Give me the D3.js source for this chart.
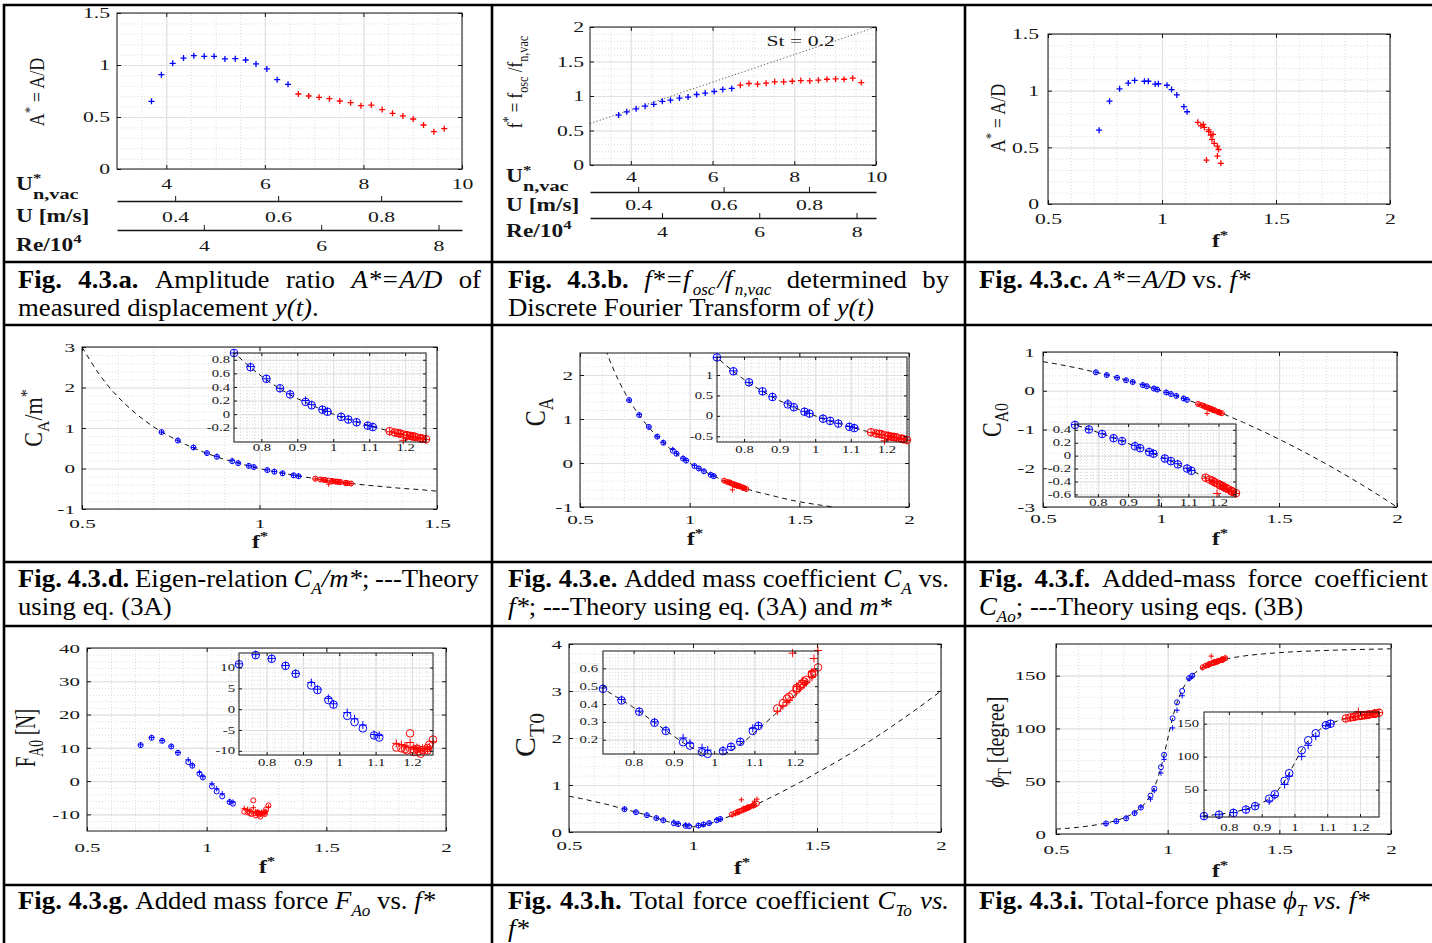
<!DOCTYPE html>
<html>
<head>
<meta charset="utf-8">
<title>Fig. 4.3</title>
<script src="https://cdn.jsdelivr.net/npm/d3@7/dist/d3.min.js"></script>
<style>
  html, body { margin: 0; padding: 0; background: #fff; }
  svg { display: block; font-family: "Liberation Serif", "Times New Roman", serif; }
  svg text { white-space: pre; }
  .grid-minor line { stroke: #d4d4d4; stroke-width: 0.8; stroke-dasharray: 1 2; }
  .grid-major line { stroke: #e0e0e0; stroke-width: 1.2; }
</style>
</head>
<body>
<script>
// ---------------------------------------------------------------------------
// Measured runs: the first `lowerCount` runs form the lower branch (blue),
// the remaining runs the upper branch (red).
// ---------------------------------------------------------------------------
const lowerCount = 14;

// reduced velocity U*_{n,vac}
const uStar = [3.70, 3.90, 4.13, 4.35, 4.56, 4.77, 4.97, 5.19, 5.40, 5.61, 5.82, 6.04, 6.25, 6.47,
               6.68, 6.89, 7.10, 7.31, 7.52, 7.74, 7.95, 8.16, 8.38, 8.59, 8.80, 9.01, 9.22, 9.43, 9.64];
// amplitude ratio A* = A/D
const ampRatio = [0.651, 0.907, 1.016, 1.067, 1.090, 1.083, 1.083, 1.058, 1.061, 1.048, 1.010, 0.962, 0.859, 0.814,
                  0.721, 0.702, 0.689, 0.676, 0.654, 0.638, 0.609, 0.615, 0.571, 0.535, 0.510, 0.481, 0.423, 0.359, 0.388];
// frequency ratio f* = f_osc / f_n,vac
const freqRatio = [0.724, 0.770, 0.814, 0.852, 0.880, 0.923, 0.940, 0.970, 0.984, 1.022, 1.042, 1.065, 1.096, 1.110,
                   1.157, 1.181, 1.171, 1.186, 1.205, 1.205, 1.214, 1.224, 1.219, 1.229, 1.243, 1.248, 1.243, 1.258, 1.195];

// two evaluation methods per run: circles (o) and crosses (+)
const caOverMass    = [0.90, 0.69, 0.52, 0.38, 0.29, 0.18, 0.13, 0.065, 0.035, -0.04, -0.08, -0.12, -0.17, -0.19,
                       -0.25, -0.28, -0.27, -0.285, -0.31, -0.315, -0.32, -0.33, -0.325, -0.335, -0.355, -0.36, -0.355, -0.37, -0.30];
const caOverMassAlt = [0.90, 0.70, 0.52, 0.38, 0.30, 0.20, 0.14, 0.07, 0.04, -0.035, -0.075, -0.115, -0.165, -0.185,
                       -0.26, -0.285, -0.275, -0.29, -0.305, -0.32, -0.325, -0.335, -0.33, -0.34, -0.35, -0.365, -0.36, -0.375, -0.385];

const addedMassCoef    = [1.43, 1.09, 0.82, 0.60, 0.46, 0.28, 0.21, 0.10, 0.055, -0.07, -0.125, -0.19, -0.27, -0.30,
                          -0.40, -0.44, -0.43, -0.45, -0.49, -0.50, -0.51, -0.52, -0.515, -0.53, -0.56, -0.57, -0.56, -0.59, -0.475];
const addedMassCoefAlt = [1.43, 1.10, 0.82, 0.60, 0.47, 0.31, 0.22, 0.11, 0.06, -0.06, -0.12, -0.18, -0.26, -0.29,
                          -0.41, -0.45, -0.44, -0.46, -0.48, -0.51, -0.52, -0.53, -0.52, -0.54, -0.555, -0.575, -0.57, -0.60, -0.61];

const addedMassForceCoef    = [0.475, 0.405, 0.335, 0.27, 0.225, 0.145, 0.115, 0.055, 0.03, -0.045, -0.085, -0.135, -0.20, -0.235,
                               -0.34, -0.39, -0.37, -0.41, -0.45, -0.46, -0.47, -0.50, -0.49, -0.51, -0.545, -0.56, -0.55, -0.58, -0.43];
const addedMassForceCoefAlt = [0.48, 0.41, 0.34, 0.275, 0.23, 0.16, 0.12, 0.065, 0.035, -0.04, -0.08, -0.125, -0.195, -0.23,
                               -0.35, -0.40, -0.38, -0.42, -0.44, -0.47, -0.48, -0.51, -0.50, -0.52, -0.54, -0.565, -0.56, -0.585, -0.585];

const addedMassForce    = [10.8, 13.0, 12.1, 10.4, 8.5, 5.7, 4.6, 2.2, 1.1, -1.6, -3.1, -4.6, -6.3, -6.8,
                           -9.2, -9.6, -9.4, -9.9, -9.7, -10.3, -9.5, -10.7, -10.1, -9.8, -9.3, -8.5, -9.9, -7.3, -5.8];
const addedMassForceAlt = [10.9, 13.1, 12.2, 10.5, 8.6, 6.4, 4.8, 2.6, 1.3, -0.8, -2.3, -3.8, -6.1, -6.3,
                           -8.2, -8.8, -8.5, -9.1, -9.2, -9.6, -9.2, -10.0, -9.5, -9.4, -9.5, -9.1, -9.7, -7.8, -8.0];

const totalForceCoef    = [0.485, 0.42, 0.357, 0.295, 0.249, 0.186, 0.167, 0.13, 0.121, 0.136, 0.16, 0.188, 0.249, 0.277,
                           0.375, 0.43, 0.405, 0.44, 0.48, 0.49, 0.50, 0.525, 0.515, 0.535, 0.565, 0.575, 0.57, 0.605, 0.455];
const totalForceCoefAlt = [0.49, 0.425, 0.36, 0.30, 0.255, 0.21, 0.18, 0.155, 0.142, 0.142, 0.162, 0.19, 0.264, 0.28,
                           0.36, 0.41, 0.39, 0.42, 0.47, 0.50, 0.49, 0.51, 0.53, 0.52, 0.55, 0.655, 0.58, 0.70, 0.685];

const totalPhase    = [10.0, 12.1, 14.8, 19.8, 25.0, 36.3, 43.0, 63.3, 75.0, 109.6, 124.8, 135.5, 147.7, 150.0,
                       158.0, 160.0, 159.5, 161.0, 162.0, 162.5, 163.0, 163.5, 163.0, 164.0, 165.0, 165.5, 165.0, 166.5, 161.5];
const totalPhaseAlt = [9.8, 12.0, 15.2, 20.0, 25.5, 33.0, 41.0, 57.8, 70.7, 100.5, 117.2, 131.0, 147.0, 149.5,
                       157.5, 160.5, 159.0, 160.5, 162.5, 163.0, 162.5, 164.0, 163.5, 164.5, 165.5, 165.0, 166.0, 167.0, 168.5];

// theory curves (dashed), sampled along f*
const theoryF = [0.5, 0.55, 0.6, 0.65, 0.7, 0.75, 0.8, 0.85, 0.9, 0.925, 0.95, 0.975, 1.0, 1.025, 1.05, 1.075, 1.1,
                 1.15, 1.2, 1.25, 1.3, 1.35, 1.4, 1.45, 1.5, 1.6, 1.7, 1.8, 1.9, 2.0];
const theoryCaOverMass = [3.00, 2.31, 1.78, 1.37, 1.04, 0.78, 0.56, 0.38, 0.23, 0.17, 0.11, 0.05, 0.00, -0.05, -0.09, -0.13, -0.17,
                          -0.24, -0.31, -0.36, -0.41, -0.45, -0.49, -0.52, -0.56, -0.61, -0.65, -0.69, -0.72, -0.75];
const theoryCa = [4.74, 3.65, 2.81, 2.16, 1.64, 1.23, 0.89, 0.61, 0.37, 0.27, 0.17, 0.08, 0.00, -0.08, -0.15, -0.21, -0.27,
                  -0.39, -0.48, -0.57, -0.65, -0.71, -0.77, -0.83, -0.88, -0.96, -1.03, -1.09, -1.14, -1.19];
const theoryCa0 = [0.75, 0.70, 0.64, 0.58, 0.51, 0.44, 0.36, 0.28, 0.19, 0.14, 0.10, 0.05, 0.00, -0.05, -0.10, -0.16, -0.21,
                   -0.32, -0.44, -0.56, -0.69, -0.82, -0.96, -1.10, -1.25, -1.56, -1.89, -2.24, -2.61, -3.00];
const theoryCt0 = [0.76, 0.71, 0.65, 0.59, 0.52, 0.45, 0.38, 0.30, 0.22, 0.18, 0.15, 0.12, 0.11, 0.12, 0.15, 0.19, 0.24,
                   0.34, 0.45, 0.57, 0.70, 0.83, 0.97, 1.11, 1.26, 1.56, 1.89, 2.24, 2.61, 3.00];
const theoryPhase = [4.6, 5.4, 6.4, 7.7, 9.4, 11.6, 14.9, 20.2, 29.6, 37.6, 49.5, 67.1, 90.0, 112.4, 129.1, 140.3, 147.8,
                     156.8, 161.9, 165.1, 167.3, 168.9, 170.1, 171.0, 171.8, 173.0, 173.8, 174.5, 175.0, 175.4];

// St = 0.2 reference line in the f*-U* plane
const strouhalU = [3, 10];
const strouhalF = [0.6, 2.0];

// secondary velocity scales: U [m/s] and Re/10^4 per unit of U*
const speedPerUStar = 0.0957;
const reynoldsPerUStar = 0.840;

// tick labels
const uStarTicks = [4, 6, 8, 10];
const speedTicks = [0.4, 0.6, 0.8];
const reynoldsTicks = [4, 6, 8];
const freqTicks = [0.5, 1, 1.5, 2];
const freqTicksShort = [0.5, 1, 1.5];
const insetFreqTicks = [0.8, 0.9, 1, 1.1, 1.2];
const ampTicks = [0, 0.5, 1, 1.5];
const freqRatioTicks = [0, 0.5, 1, 1.5, 2];
const caOverMassTicks = [-1, 0, 1, 2, 3];
const caOverMassInsetTicks = [-0.2, 0, 0.2, 0.4, 0.6, 0.8];
const caTicks = [-1, 0, 1, 2];
const caInsetTicks = [-0.5, 0, 0.5, 1];
const ca0Ticks = [-3, -2, -1, 0, 1];
const ca0InsetTicks = [-0.6, -0.4, -0.2, 0, 0.2, 0.4];
const forceTicks = [-10, 0, 10, 20, 30, 40];
const forceInsetTicks = [-10, -5, 0, 5, 10];
const ct0Ticks = [0, 1, 2, 3, 4];
const ct0InsetTicks = [0.2, 0.3, 0.4, 0.5, 0.6];
const phaseTicks = [0, 50, 100, 150];
const phaseInsetTicks = [50, 100, 150];

// ---------------------------------------------------------------------------
const W = 1432, H = 943;
const INK = "#151515", BLUE = "#0000ff", RED = "#ff0000";
const svg = d3.select("body").append("svg").attr("width", W).attr("height", H);
const colorAt = i => (i < lowerCount ? BLUE : RED);
const fmt = d => String(d);
const steps = (a, b, s) => d3.range(Math.round((b - a) / s) + 1).map(k => a + k * s);
let clipSeq = 0;

// text built from pieces: flags B bold, I italic, L lowered (subscript), R raised (superscript)
function rich(text, parts, fs, subScale) {
  const ss = subScale || 0.72;
  let cur = 0;
  parts.forEach(([str, st]) => {
    let off = 0, size = fs;
    if (st.includes("L")) { off = 0.28 * fs; size = ss * fs; }
    if (st.includes("R")) { off = -0.42 * fs; size = ss * fs; }
    const ts = text.append("tspan").attr("font-size", size).attr("dy", off - cur).text(str);
    if (st.includes("I")) ts.attr("font-style", "italic");
    if (st.includes("B")) ts.attr("font-weight", "bold");
    cur = off;
  });
  return text;
}

function hLabel(x, y, parts, fs, sx, anchor) {
  const g = svg.append("g").attr("transform", `translate(${x},${y}) scale(${sx},1)`);
  rich(g.append("text").attr("text-anchor", anchor || "start").attr("fill", INK), parts, fs);
}

function yLabel(cx, cy, parts, fs, sx) {
  const g = svg.append("g").attr("transform", `translate(${cx},${cy}) scale(${sx},1) rotate(-90)`);
  rich(g.append("text").attr("text-anchor", "middle").attr("y", 0.34 * fs).attr("fill", INK), parts, fs);
}

function styleTicks(g, fs, sx) {
  g.attr("font-family", null).attr("font-size", null);
  g.selectAll(".tick line").attr("stroke", INK);
  g.selectAll(".tick text").attr("fill", INK).attr("font-size", fs).each(function () {
    const t = d3.select(this);
    const xv = +(t.attr("x") || 0);
    t.attr("x", xv / sx).attr("transform", `scale(${sx},1)`);
  });
}

function makePanel(c) {
  const [x0, x1, y0, y1] = c.box;
  const w = x1 - x0, h = y1 - y0;
  const x = d3.scaleLinear().domain(c.xDom).range([x0, x1]);
  const y = d3.scaleLinear().domain(c.yDom).range([y1, y0]);
  const root = svg.append("g");
  root.append("rect").attr("x", x0).attr("y", y0).attr("width", w).attr("height", h).attr("fill", "#fff");
  const id = "plotclip" + (clipSeq++);
  root.append("clipPath").attr("id", id).append("rect")
    .attr("x", x0).attr("y", y0).attr("width", w).attr("height", h);
  const grid = root.append("g");
  [["grid-minor", c.xMinor, c.yMinor], ["grid-major", c.xTicks, c.yTicks]].forEach(([cls, xv, yv]) => {
    grid.append("g").attr("class", cls).attr("transform", `translate(0,${y1})`)
      .call(d3.axisBottom(x).tickValues(xv).tickSize(-h).tickFormat(""))
      .call(s => s.select(".domain").remove());
    grid.append("g").attr("class", cls).attr("transform", `translate(${x0},0)`)
      .call(d3.axisLeft(y).tickValues(yv).tickSize(-w).tickFormat(""))
      .call(s => s.select(".domain").remove());
  });
  const data = root.append("g");
  const axes = root.append("g");
  const sides = [
    [d3.axisBottom(x), `translate(0,${y1})`, c.xTicks, c.padX, true],
    [d3.axisTop(x), `translate(0,${y0})`, c.xTicks, 0, false],
    [d3.axisLeft(y), `translate(${x0},0)`, c.yTicks, c.padY, true],
    [d3.axisRight(y), `translate(${x1},0)`, c.yTicks, 0, false]
  ];
  sides.forEach(([ax, tr, vals, pad, labelled]) => {
    const g = axes.append("g").attr("transform", tr)
      .call(ax.tickValues(vals).tickSizeInner(-c.tick).tickSizeOuter(0).tickPadding(pad)
        .tickFormat(labelled ? fmt : ""));
    g.select(".domain").remove();
    styleTicks(g, c.fs, c.sx);
  });
  axes.append("rect").attr("x", x0).attr("y", y0).attr("width", w).attr("height", h)
    .attr("fill", "none").attr("stroke", INK).attr("stroke-width", 1);
  return { x, y, data, clip: `url(#${id})` };
}

function crosses(p, xs, ys, s, sw) {
  p.data.append("g").selectAll("path").data(xs.map((v, i) => ({ fx: v, fy: ys[i], i })))
    .join("path")
    .attr("d", d => {
      const px = p.x(d.fx), py = p.y(d.fy);
      return `M${px - s},${py}H${px + s}M${px},${py - s}V${py + s}`;
    })
    .attr("fill", "none").attr("stroke", d => colorAt(d.i)).attr("stroke-width", sw);
}

function rings(p, xs, ys, r, sw) {
  p.data.append("g").selectAll("circle").data(xs.map((v, i) => ({ fx: v, fy: ys[i], i })))
    .join("circle")
    .attr("cx", d => p.x(d.fx)).attr("cy", d => p.y(d.fy)).attr("r", r)
    .attr("fill", "none").attr("stroke", d => colorAt(d.i)).attr("stroke-width", sw);
}

function curve(p, xs, ys, dash, color) {
  p.data.append("path").datum(xs.map((v, i) => [v, ys[i]]))
    .attr("clip-path", p.clip)
    .attr("d", d3.line().x(d => p.x(d[0])).y(d => p.y(d[1])).curve(d3.curveMonotoneX))
    .attr("fill", "none").attr("stroke", color || "#111").attr("stroke-width", 1)
    .attr("stroke-dasharray", dash || "5,4");
}

function speedAxis(xMain, factor, vals, lineY, pad, fs, sx) {
  const [a, b] = xMain.domain();
  const s = d3.scaleLinear().domain([a * factor, b * factor]).range(xMain.range());
  const g = svg.append("g").attr("transform", `translate(0,${lineY})`)
    .call(d3.axisBottom(s).tickValues(vals).tickSizeInner(-5).tickSizeOuter(0).tickPadding(pad).tickFormat(fmt));
  g.select(".domain").attr("stroke", INK).attr("stroke-width", 1.3);
  styleTicks(g, fs, sx);
}

// Paired measurement panel: main axes with o/+ markers plus an inset
function pairedPanel(mainCfg, insetCfg, ys, ysAlt, theory) {
  const p = makePanel(mainCfg);
  if (theory) curve(p, theoryF, theory);
  rings(p, freqRatio, ys, 2.5, 1);
  crosses(p, freqRatio, ysAlt, 2.7, 1);
  const q = makePanel(insetCfg);
  if (theory) curve(q, theoryF, theory);
  rings(q, freqRatio, ys, 3.8, 1);
  crosses(q, freqRatio, ysAlt, 4, 1);
}

const R1 = { fs: 15.5, sx: 1.4, tick: 4 };
const R2 = { fs: 12.5, sx: 1.7, tick: 4 };
const R3 = { fs: 13.5, sx: 1.55, tick: 4 };
const INS = { fs: 9.5, sx: 1.55, tick: 3 };
const insetX = d3.extent(freqRatio);

// ---- Fig. 4.3.a : A* vs U* ----
const pa = makePanel({ ...R1, box: [117, 462, 13, 169], xDom: [3, 10], yDom: [0, 1.5],
  xTicks: uStarTicks, yTicks: ampTicks, xMinor: steps(3, 10, 0.5), yMinor: steps(0, 1.5, 0.1), padX: 9, padY: 7 });
crosses(pa, uStar, ampRatio, 3, 1.3);
speedAxis(pa.x, speedPerUStar, speedTicks, 201, 10, R1.fs, R1.sx);
speedAxis(pa.x, reynoldsPerUStar, reynoldsTicks, 230, 10, R1.fs, R1.sx);

// ---- Fig. 4.3.b : f* vs U* ----
const pb = makePanel({ ...R1, box: [590, 876, 27, 165], xDom: [3, 10], yDom: [0, 2],
  xTicks: uStarTicks, yTicks: freqRatioTicks, xMinor: steps(3, 10, 0.5), yMinor: steps(0, 2, 0.1), padX: 6, padY: 6 });
curve(pb, strouhalU, strouhalF, "1.2,2.2", "#555");
crosses(pb, uStar, freqRatio, 3, 1.3);
pb.data.append("g").attr("transform", `translate(${pb.x(7.32)},${pb.y(1.72)}) scale(${R1.sx},1)`)
  .append("text").attr("font-size", R1.fs).attr("fill", INK).text("St = 0.2");
speedAxis(pb.x, speedPerUStar, speedTicks, 192, 7, R1.fs, R1.sx);
speedAxis(pb.x, reynoldsPerUStar, reynoldsTicks, 218, 8, R1.fs, R1.sx);

// ---- Fig. 4.3.c : A* vs f* ----
const pc = makePanel({ ...R1, box: [1048, 1390, 34, 204], xDom: [0.5, 2], yDom: [0, 1.5],
  xTicks: freqTicks, yTicks: ampTicks, xMinor: steps(0.5, 2, 0.1), yMinor: steps(0, 1.5, 0.1), padX: 9, padY: 9 });
crosses(pc, freqRatio, ampRatio, 3, 1.3);

// ---- Fig. 4.3.d : C_A/m* ----
pairedPanel(
  { ...R2, box: [82, 437, 347, 509], xDom: [0.5, 1.5], yDom: [-1, 3], xTicks: freqTicksShort, yTicks: caOverMassTicks,
    xMinor: steps(0.5, 1.5, 0.1), yMinor: steps(-1, 3, 0.2), padX: 10, padY: 7 },
  { ...INS, box: [234, 426, 353, 442], xDom: insetX, yDom: [-0.41, 0.9], xTicks: insetFreqTicks, yTicks: caOverMassInsetTicks,
    xMinor: steps(0.72, 1.26, 0.02), yMinor: steps(-0.4, 0.9, 0.05), padX: 2, padY: 4 },
  caOverMass, caOverMassAlt, theoryCaOverMass);

// ---- Fig. 4.3.e : C_A ----
pairedPanel(
  { ...R2, box: [580, 909, 353, 507], xDom: [0.5, 2], yDom: [-1, 2.5], xTicks: freqTicks, yTicks: caTicks,
    xMinor: steps(0.5, 2, 0.1), yMinor: steps(-1, 2.4, 0.2), padX: 8, padY: 7 },
  { ...INS, box: [717, 907, 357, 442], xDom: insetX, yDom: [-0.64, 1.44], xTicks: insetFreqTicks, yTicks: caInsetTicks,
    xMinor: steps(0.72, 1.26, 0.02), yMinor: steps(-0.6, 1.4, 0.1), padX: 4, padY: 4 },
  addedMassCoef, addedMassCoefAlt, theoryCa);

// ---- Fig. 4.3.f : C_A0 ----
pairedPanel(
  { ...R2, box: [1043, 1397, 352, 507], xDom: [0.5, 2], yDom: [-3, 1], xTicks: freqTicks, yTicks: ca0Ticks,
    xMinor: steps(0.5, 2, 0.1), yMinor: steps(-3, 1, 0.2), padX: 7, padY: 8 },
  { ...INS, box: [1075, 1236, 424, 497], xDom: insetX, yDom: [-0.64, 0.49], xTicks: insetFreqTicks, yTicks: ca0InsetTicks,
    xMinor: steps(0.72, 1.26, 0.02), yMinor: steps(-0.6, 0.45, 0.05), padX: 2, padY: 4 },
  addedMassForceCoef, addedMassForceCoefAlt, theoryCa0);

// ---- Fig. 4.3.g : F_A0 ----
pairedPanel(
  { ...R3, box: [87, 446, 648, 831], xDom: [0.5, 2], yDom: [-15, 40], xTicks: freqTicks, yTicks: forceTicks,
    xMinor: steps(0.5, 2, 0.1), yMinor: steps(-14, 40, 2), padX: 11, padY: 7 },
  { ...INS, box: [239, 433, 653, 755], xDom: insetX, yDom: [-11, 13.5], xTicks: insetFreqTicks, yTicks: forceInsetTicks,
    xMinor: steps(0.72, 1.26, 0.02), yMinor: steps(-11, 13, 1), padX: 4, padY: 4 },
  addedMassForce, addedMassForceAlt, null);

// ---- Fig. 4.3.h : C_T0 ----
pairedPanel(
  { ...R3, box: [569, 941, 644, 832], xDom: [0.5, 2], yDom: [0, 4], xTicks: freqTicks, yTicks: ct0Ticks,
    xMinor: steps(0.5, 2, 0.1), yMinor: steps(0, 4, 0.2), padX: 8.5, padY: 7 },
  { ...INS, box: [603, 818, 651, 754], xDom: insetX, yDom: [0.12, 0.697], xTicks: insetFreqTicks, yTicks: ct0InsetTicks,
    xMinor: steps(0.72, 1.26, 0.02), yMinor: steps(0.12, 0.68, 0.02), padX: 5, padY: 5 },
  totalForceCoef, totalForceCoefAlt, theoryCt0);

// ---- Fig. 4.3.i : phase ----
pairedPanel(
  { ...R3, box: [1056, 1391, 644, 834], xDom: [0.5, 2], yDom: [0, 180], xTicks: freqTicks, yTicks: phaseTicks,
    xMinor: steps(0.5, 2, 0.1), yMinor: steps(0, 180, 10), padX: 10, padY: 10 },
  { ...INS, box: [1204, 1379, 712, 817], xDom: insetX, yDom: [8.6, 167.7], xTicks: insetFreqTicks, yTicks: phaseInsetTicks,
    xMinor: steps(0.72, 1.26, 0.02), yMinor: steps(10, 160, 10), padX: 7, padY: 5 },
  totalPhase, totalPhaseAlt, theoryPhase);

// ---- axis titles ----
yLabel(37, 92, [["A", ""], ["*", "R"], [" = A/D", ""]], 18, 1.2);
yLabel(515, 82, [["f", ""], ["*", "R"], [" = f", ""], ["osc", "L"], [" /f", ""], ["n,vac", "L"]], 17, 1.2);
yLabel(998, 118, [["A", ""], ["*", "R"], [" = A/D", ""]], 18, 1.2);
yLabel(34, 418, [["C", ""], ["A", "L"], ["/m", ""], ["*", "R"]], 22, 1.1);
yLabel(535, 412, [["C", ""], ["A", "L"]], 24, 1.2);
yLabel(992, 420, [["C", ""], ["A0", "L"]], 22, 1.2);
yLabel(25, 738, [["F", ""], ["A0", "L"], [" [N]", ""]], 19, 1.5);
yLabel(525, 735, [["C", ""], ["T0", "L"]], 30, 1.0);
yLabel(995, 742, [["ϕ", "I"], ["T", "L"], [" [degree]", ""]], 20, 1.3);

const fStar = [["f", "B"], ["*", "BR"]];
[[1220, 247], [260, 548], [695, 545], [1220, 545], [267, 873], [742, 874], [1220, 877]]
  .forEach(([x, y]) => hLabel(x, y, fStar, 18, 1.3, "middle"));

// velocity row titles
[[16, 190, 199, 222, 251], [506, 182, 191, 211, 237]].forEach(([x, yU, ySub, ySpeed, yRe]) => {
  hLabel(x, yU, [["U", "B"], ["*", "BR"]], 18, 1.3);
  hLabel(x + 17, ySub, [["n,vac", "B"]], 15, 1.35);
  hLabel(x, ySpeed, [["U [m/s]", "B"]], 18, 1.3);
  hLabel(x, yRe, [["Re/10", "B"], ["4", "BR"]], 18, 1.3);
});

// ---- captions ----
const captions = [
  { x: 18, right: 481, y: 288, lines: [
    { j: true, w: [[["Fig.", "B"]], [["4.3.a.", "B"]], [["Amplitude", ""]], [["ratio", ""]], [["A*=A/D", "I"]], [["of", ""]]] },
    { j: false, w: [[["measured", ""]], [["displacement", ""]], [["y(t)", "I"], [".", ""]]] }] },
  { x: 508, right: 949, y: 288, lines: [
    { j: true, w: [[["Fig.", "B"]], [["4.3.b.", "B"]], [["f*=f\u200A", "I"], ["osc", "IL"], ["\u200A/f\u200A", "I"], ["n,vac", "IL"]], [["determined", ""]], [["by", ""]]] },
    { j: false, w: [[["Discrete", ""]], [["Fourier", ""]], [["Transform", ""]], [["of", ""]], [["y(t)", "I"]]] }] },
  { x: 979, right: 1428, y: 288, lines: [
    { j: false, w: [[["Fig. 4.3.c.", "B"]], [["A*=A/D", "I"]], [["vs.", ""]], [["f*", "I"]]] }] },
  { x: 18, right: 479, y: 587, lines: [
    { j: true, w: [[["Fig.", "B"]], [["4.3.d.", "B"]], [["Eigen-relation", ""]], [["C", "I"], ["A", "IL"], ["/m*", "I"], [";", ""]], [["---Theory", ""]]] },
    { j: false, w: [[["using", ""]], [["eq.", ""]], [["(3A)", ""]]] }] },
  { x: 508, right: 949, y: 587, lines: [
    { j: true, w: [[["Fig.", "B"]], [["4.3.e.", "B"]], [["Added", ""]], [["mass", ""]], [["coefficient", ""]], [["C", "I"], ["A", "IL"]], [["vs.", ""]]] },
    { j: false, w: [[["f*", "I"], [";", ""]], [["---Theory", ""]], [["using", ""]], [["eq.", ""]], [["(3A)", ""]], [["and", ""]], [["m*", "I"]]] }] },
  { x: 979, right: 1428, y: 587, lines: [
    { j: true, w: [[["Fig.", "B"]], [["4.3.f.", "B"]], [["Added-mass", ""]], [["force", ""]], [["coefficient", ""]]] },
    { j: false, w: [[["C", "I"], ["Ao", "IL"], [";", ""]], [["---Theory", ""]], [["using", ""]], [["eqs.", ""]], [["(3B)", ""]]] }] },
  { x: 18, right: 481, y: 909, lines: [
    { j: false, w: [[["Fig. 4.3.g.", "B"]], [["Added", ""]], [["mass", ""]], [["force", ""]], [["F", "I"], ["Ao", "IL"]], [["vs.", ""]], [["f*", "I"]]] }] },
  { x: 508, right: 949, y: 909, lines: [
    { j: true, w: [[["Fig.", "B"]], [["4.3.h.", "B"]], [["Total", ""]], [["force", ""]], [["coefficient", ""]], [["C", "I"], ["To", "IL"]], [["vs.", "I"]]] },
    { j: false, w: [[["f*", "I"]]] }] },
  { x: 979, right: 1428, y: 909, lines: [
    { j: false, w: [[["Fig. 4.3.i.", "B"]], [["Total-force", ""]], [["phase", ""]], [["ϕ", "I"], ["T", "IL"]], [["vs.", "I"]], [["f*", "I"]]] }] }
];

const CAP_FS = 25, CAP_SX = 1.07, CAP_LH = 28.5;
captions.forEach(cap => {
  const g = svg.append("g").attr("transform", `translate(${cap.x},${cap.y}) scale(${CAP_SX},1)`);
  const avail = (cap.right - cap.x) / CAP_SX;
  cap.lines.forEach((ln, li) => {
    const texts = ln.w.map(parts => rich(g.append("text").attr("y", li * CAP_LH).attr("fill", "#000"), parts, CAP_FS, 0.64));
    const widths = texts.map(t => t.node().getComputedTextLength());
    const gap = ln.j && texts.length > 1 ? (avail - d3.sum(widths)) / (texts.length - 1) : 0.25 * CAP_FS;
    let cx = 0;
    texts.forEach((t, i) => { t.attr("x", cx); cx += widths[i] + gap; });
  });
});

// ---- table rules ----
const rules = svg.append("g").attr("stroke", "#000").attr("stroke-width", 2.6);
[5, 262, 325, 562, 626, 885].forEach(yv => rules.append("line").attr("x1", 3).attr("x2", W).attr("y1", yv).attr("y2", yv));
[4, 492, 965].forEach(xv => rules.append("line").attr("x1", xv).attr("x2", xv).attr("y1", 4).attr("y2", H));
</script>
</body>
</html>
